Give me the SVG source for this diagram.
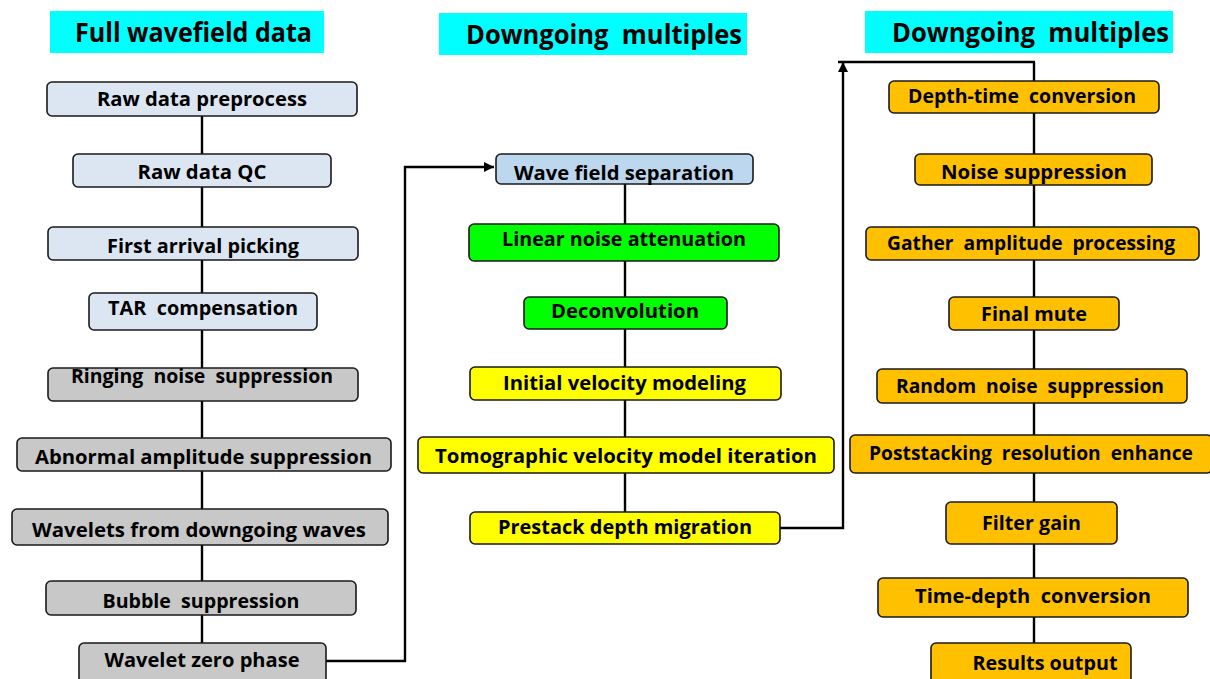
<svg xmlns="http://www.w3.org/2000/svg" width="1210" height="679" viewBox="0 0 1210 679">
<style>
.hdr{fill:#00ffff}
.ht{font-family:"Open Sans","Noto Sans",sans-serif;font-weight:bold;font-size:26px;fill:#000;text-anchor:middle}
.b{stroke:#1a1a1a;stroke-width:1.6}
.t{font-family:"Open Sans","Noto Sans",sans-serif;font-weight:bold;font-size:19px;fill:#000;text-anchor:middle}
.lb{fill:#dce6f2}
.gr{fill:#c8c8c8}
.sb{fill:#bdd7ee}
.gn{fill:#00ff00}
.yl{fill:#ffff00}
.or{fill:#ffc000}
.c{stroke:#000;stroke-width:2.4;fill:none}
</style>
<defs>
<marker id="ah" viewBox="0 0 10 10" refX="10" refY="5" markerWidth="11" markerHeight="10" markerUnits="userSpaceOnUse" orient="auto">
<path d="M0,0 L10,5 L0,10 z" fill="#000"/>
</marker>
</defs>
<rect width="1210" height="679" fill="#fff"/>
<g id="connectors">
<line class="c" x1="202" y1="116" x2="202" y2="643"/>
<line class="c" x1="625" y1="184" x2="625" y2="512"/>
<line class="c" x1="1034" y1="62" x2="1034" y2="643"/>
<polyline class="c" points="326,661 405,661 405,167 494,167" marker-end="url(#ah)"/>
<polyline class="c" points="780,528 843,528 843,62" marker-end="url(#ah)"/>
<line class="c" x1="838" y1="62" x2="1035" y2="62"/>
</g>
<g id="header1"><rect class="hdr" x="50" y="11" width="274" height="42"/><text class="ht" x="193.5" y="42" textLength="237" lengthAdjust="spacingAndGlyphs">Full wavefield data</text></g>
<g id="header2"><rect class="hdr" x="439" y="13" width="308" height="42"/><text class="ht" x="604" y="44" textLength="276" lengthAdjust="spacingAndGlyphs" xml:space="preserve">Downgoing  multiples</text></g>
<g id="header3"><rect class="hdr" x="865" y="11" width="308" height="42"/><text class="ht" x="1030.5" y="42" textLength="277" lengthAdjust="spacingAndGlyphs" xml:space="preserve">Downgoing  multiples</text></g>

<g id="n1"><rect class="b lb" x="47" y="82" width="310" height="34" rx="5"/><text class="t" x="202" y="106" textLength="210" lengthAdjust="spacingAndGlyphs">Raw data preprocess</text></g>
<g id="n2"><rect class="b lb" x="73" y="154" width="258" height="33" rx="5"/><text class="t" x="202" y="179" textLength="129" lengthAdjust="spacingAndGlyphs">Raw data QC</text></g>
<g id="n3"><rect class="b lb" x="48" y="227" width="310" height="33" rx="5"/><text class="t" x="203" y="253" textLength="192" lengthAdjust="spacingAndGlyphs">First arrival picking</text></g>
<g id="n4"><rect class="b lb" x="89" y="293" width="228" height="37" rx="5"/><text class="t" x="203" y="315" textLength="190" lengthAdjust="spacingAndGlyphs" xml:space="preserve">TAR  compensation</text></g>
<g id="n5"><rect class="b gr" x="48" y="368" width="310" height="33" rx="5"/><text class="t" x="202" y="383" textLength="262" lengthAdjust="spacingAndGlyphs" xml:space="preserve">Ringing  noise  suppression</text></g>
<g id="n6"><rect class="b gr" x="17" y="438" width="374" height="33" rx="5"/><text class="t" x="203.5" y="464" textLength="337" lengthAdjust="spacingAndGlyphs">Abnormal amplitude suppression</text></g>
<g id="n7"><rect class="b gr" x="12" y="509" width="376" height="36" rx="5"/><text class="t" x="199" y="537" textLength="334" lengthAdjust="spacingAndGlyphs">Wavelets from downgoing waves</text></g>
<g id="n8"><rect class="b gr" x="46" y="581" width="310" height="34" rx="5"/><text class="t" x="201" y="608" textLength="197" lengthAdjust="spacingAndGlyphs" xml:space="preserve">Bubble  suppression</text></g>
<g id="n9"><rect class="b gr" x="79" y="643" width="247" height="40" rx="5"/><text class="t" x="202" y="667" textLength="195" lengthAdjust="spacingAndGlyphs">Wavelet zero phase</text></g>

<g id="m1"><rect class="b sb" x="496" y="154" width="257" height="30" rx="5"/><text class="t" x="624" y="180" textLength="220" lengthAdjust="spacingAndGlyphs">Wave field separation</text></g>
<g id="m2"><rect class="b gn" x="469" y="224" width="310" height="37" rx="5"/><text class="t" x="624" y="246" textLength="244" lengthAdjust="spacingAndGlyphs">Linear noise attenuation</text></g>
<g id="m3"><rect class="b gn" x="524" y="297" width="203" height="32" rx="5"/><text class="t" x="625" y="318" textLength="148" lengthAdjust="spacingAndGlyphs">Deconvolution</text></g>
<g id="m4"><rect class="b yl" x="470" y="367" width="311" height="33" rx="5"/><text class="t" x="624.5" y="390" textLength="243" lengthAdjust="spacingAndGlyphs">Initial velocity modeling</text></g>
<g id="m5"><rect class="b yl" x="418" y="437" width="416" height="36" rx="5"/><text class="t" x="626" y="463" textLength="382" lengthAdjust="spacingAndGlyphs">Tomographic velocity model iteration</text></g>
<g id="m6"><rect class="b yl" x="470" y="512" width="310" height="32" rx="5"/><text class="t" x="625" y="534" textLength="254" lengthAdjust="spacingAndGlyphs">Prestack depth migration</text></g>

<g id="r1"><rect class="b or" x="889" y="81" width="270" height="32" rx="5"/><text class="t" x="1022" y="103" textLength="228" lengthAdjust="spacingAndGlyphs" xml:space="preserve">Depth-time  conversion</text></g>
<g id="r2"><rect class="b or" x="915" y="154" width="237" height="31" rx="5"/><text class="t" x="1034" y="179" textLength="186" lengthAdjust="spacingAndGlyphs">Noise suppression</text></g>
<g id="r3"><rect class="b or" x="866" y="227" width="333" height="33" rx="5"/><text class="t" x="1031" y="250" textLength="288" lengthAdjust="spacingAndGlyphs" xml:space="preserve">Gather  amplitude  processing</text></g>
<g id="r4"><rect class="b or" x="949" y="297" width="170" height="33" rx="5"/><text class="t" x="1034" y="321" textLength="106" lengthAdjust="spacingAndGlyphs">Final mute</text></g>
<g id="r5"><rect class="b or" x="877" y="369" width="310" height="34" rx="5"/><text class="t" x="1030" y="393" textLength="268" lengthAdjust="spacingAndGlyphs" xml:space="preserve">Random  noise  suppression</text></g>
<g id="r6"><rect class="b or" x="850" y="435" width="362" height="38" rx="5"/><text class="t" x="1031" y="460" textLength="324" lengthAdjust="spacingAndGlyphs" xml:space="preserve">Poststacking  resolution  enhance</text></g>
<g id="r7"><rect class="b or" x="946" y="502" width="171" height="42" rx="5"/><text class="t" x="1031.5" y="530" textLength="99" lengthAdjust="spacingAndGlyphs">Filter gain</text></g>
<g id="r8"><rect class="b or" x="878" y="578" width="310" height="39" rx="5"/><text class="t" x="1033" y="603" textLength="236" lengthAdjust="spacingAndGlyphs" xml:space="preserve">Time-depth  conversion</text></g>
<g id="r9"><rect class="b or" x="931" y="643" width="200" height="40" rx="5"/><text class="t" x="1045" y="670" textLength="145" lengthAdjust="spacingAndGlyphs">Results output</text></g>
</svg>
